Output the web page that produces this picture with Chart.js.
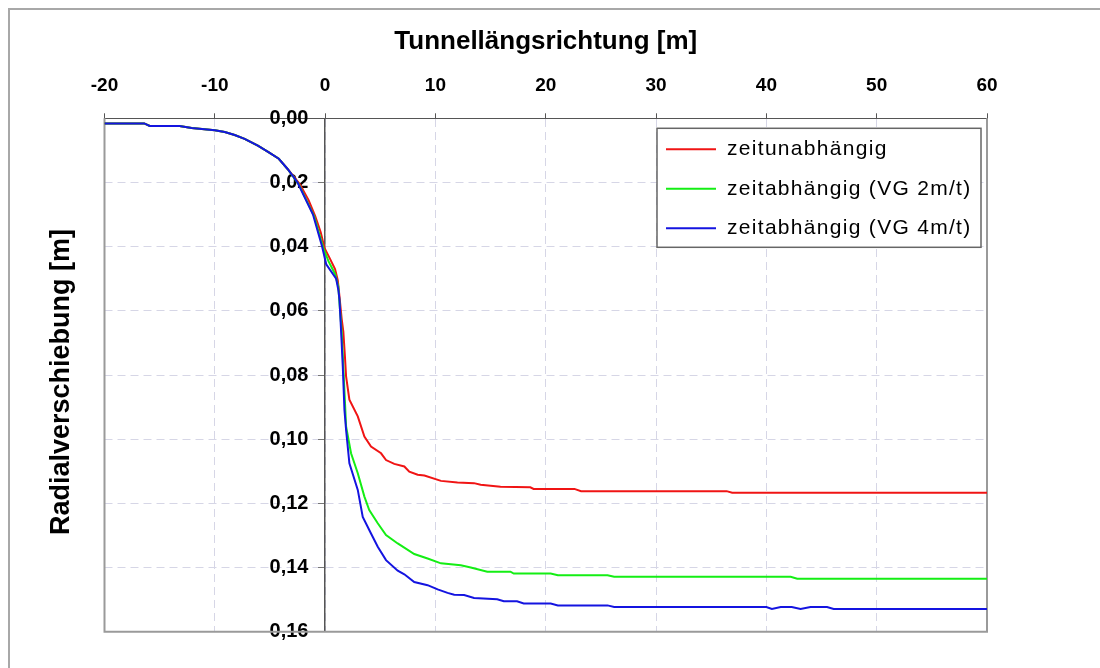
<!DOCTYPE html>
<html>
<head>
<meta charset="utf-8">
<script src="https://cdn.jsdelivr.net/npm/chart.js@4.4.1/dist/chart.umd.min.js"></script>
<style>
  body { margin: 0; background: #fff; }
</style>
</head>
<body>
<canvas id="radialChart" width="1100" height="668"></canvas>
<script>
// shared start of all three curves (before the face)
const startX = [-20, -16.4, -15.9, -13.2, -12.1, -10, -9.1, -8.2, -7.3, -6.1, -5.1, -4.2, -3.4];
const startY = [0.0016, 0.0016, 0.0024, 0.0024, 0.0030, 0.0037, 0.0043, 0.0052, 0.0064, 0.0085, 0.0106, 0.0126, 0.0158];

const redX = [-2.3, -1.5, -0.9, -0.4, -0.05, 0.4, 0.9, 1.15, 1.3, 1.5, 1.65, 1.8, 1.9, 2.2, 2.96, 3.56, 4.16, 5.07, 5.52, 6.27, 7.18, 7.63, 8.39, 9.0, 10.5, 12.0, 13.5, 14.1, 15.9, 18.6, 18.9, 22.6, 23.2, 36.4, 36.9, 60];
const redY = [0.0205, 0.0255, 0.0305, 0.0355, 0.0405, 0.0435, 0.0470, 0.0505, 0.0555, 0.0625, 0.0665, 0.0745, 0.0804, 0.0877, 0.0929, 0.0992, 0.1023, 0.1044, 0.1065, 0.1077, 0.1085, 0.1101, 0.1111, 0.1113, 0.1130, 0.1135, 0.1137, 0.1142, 0.1148, 0.1150, 0.1155, 0.1155, 0.1162, 0.1162, 0.1167, 0.1167];

const greenX = [-2.4, -1.0, -0.15, 0.3, 0.9, 1.2, 1.3, 1.5, 1.65, 1.8, 1.9, 2.35, 2.96, 3.56, 4.0, 4.77, 5.52, 6.58, 8.08, 9.29, 10.5, 12.3, 13.2, 14.7, 16.8, 17.1, 20.45, 21.1, 25.6, 26.2, 42.2, 42.8, 60];
const greenY = [0.0205, 0.0305, 0.0405, 0.0445, 0.0485, 0.0525, 0.0575, 0.0665, 0.0775, 0.0885, 0.0960, 0.1044, 0.1106, 0.1179, 0.1221, 0.1262, 0.1299, 0.1325, 0.1358, 0.1372, 0.1387, 0.1393, 0.1400, 0.1413, 0.1413, 0.1419, 0.1419, 0.1424, 0.1424, 0.1429, 0.1429, 0.1435, 0.1435];

const blueX = [-2.5, -1.1, -0.27, 0.1, 1.0, 1.2, 1.3, 1.45, 1.6, 1.75, 1.9, 2.2, 2.96, 3.41, 4.16, 4.77, 5.52, 6.58, 7.18, 8.08, 9.29, 10.2, 11.1, 11.7, 12.6, 13.5, 15.6, 16.2, 17.4, 18.0, 20.45, 21.1, 25.6, 26.2, 40.0, 40.5, 41.3, 42.3, 43.1, 44.0, 45.5, 46.1, 60];
const blueY = [0.0200, 0.0300, 0.0400, 0.0455, 0.0500, 0.0535, 0.0565, 0.0665, 0.0773, 0.0908, 0.0971, 0.1075, 0.1158, 0.1242, 0.1294, 0.1335, 0.1377, 0.1410, 0.1421, 0.1445, 0.1455, 0.1468, 0.1479, 0.1485, 0.1486, 0.1495, 0.1499, 0.1505, 0.1505, 0.1512, 0.1512, 0.1518, 0.1518, 0.1523, 0.1523, 0.1529, 0.1523, 0.1523, 0.1529, 0.1523, 0.1523, 0.1529, 0.1529];

const seriesLabels = ['zeitunabhängig', 'zeitabhängig (VG 2m/t)', 'zeitabhängig (VG 4m/t)'];
const xTitle = 'Tunnellängsrichtung [m]';
const yTitle = 'Radialverschiebung [m]';

const fontFamily = '"Liberation Sans", Arial, sans-serif';

function points(xs, ys) {
    const pts = [];
    for (let i = 0; i < xs.length; i++) {
        pts.push({ x: xs[i], y: ys[i] });
    }
    return pts;
}

// outer frame, plot border, legend box and rotated y title
const framePlugin = {
    id: 'framePlugin',
    beforeDraw(chart) {
        const ctx = chart.ctx;
        ctx.save();
        ctx.fillStyle = '#fff';
        ctx.fillRect(0, 0, chart.width, chart.height);
        ctx.strokeStyle = '#a8a8a8';
        ctx.lineWidth = 2;
        ctx.strokeRect(9, 9, chart.width + 20, chart.height + 20);
        ctx.restore();
    },
    beforeDatasetsDraw(chart) {
        const ctx = chart.ctx;
        const a = chart.chartArea;
        ctx.save();
        ctx.strokeStyle = '#9a9a9a';
        ctx.lineWidth = 2;
        ctx.beginPath();
        ctx.moveTo(a.left, a.top);
        ctx.lineTo(a.left, a.bottom);
        ctx.lineTo(a.right, a.bottom);
        ctx.lineTo(a.right, a.top);
        ctx.stroke();
        ctx.restore();
    },
    afterDraw(chart) {
        const ctx = chart.ctx;
        const a = chart.chartArea;

        // legend
        const w = 324, h = 119;
        const left = a.right - 6 - w;
        const top = a.top + 10;
        ctx.save();
        ctx.fillStyle = '#fff';
        ctx.fillRect(left, top, w, h);
        ctx.strokeStyle = '#666';
        ctx.lineWidth = 1.5;
        ctx.strokeRect(left, top, w, h);
        ctx.font = '21px ' + fontFamily;
        ctx.letterSpacing = '1.3px';
        ctx.textBaseline = 'middle';
        chart.data.datasets.forEach((ds, i) => {
            const y = top + 21 + i * 39.5;
            ctx.strokeStyle = ds.borderColor;
            ctx.lineWidth = 2;
            ctx.beginPath();
            ctx.moveTo(left + 9, y);
            ctx.lineTo(left + 59, y);
            ctx.stroke();
            ctx.fillStyle = '#000';
            ctx.fillText(ds.label, left + 70, y);
        });
        ctx.restore();

        // y axis title
        ctx.save();
        ctx.translate(68.5, (a.top + a.bottom) / 2 + 7);
        ctx.rotate(-Math.PI / 2);
        ctx.font = 'bold 27px ' + fontFamily;
        ctx.fillStyle = '#000';
        ctx.textAlign = 'center';
        ctx.textBaseline = 'alphabetic';
        ctx.fillText(yTitle, 0, 0);
        ctx.restore();
    }
};

const gridColor = '#d6d6e6';

const radialChart = new Chart(document.getElementById('radialChart'), {
    type: 'line',
    data: {
        datasets: [
            {
                label: seriesLabels[0],
                data: points(startX.concat(redX), startY.concat(redY)),
                borderColor: '#f01414',
                borderWidth: 2,
                pointRadius: 0,
                tension: 0,
                fill: false,
                order: 2
            },
            {
                label: seriesLabels[1],
                data: points(startX.concat(greenX), startY.concat(greenY)),
                borderColor: '#14ee14',
                borderWidth: 2,
                pointRadius: 0,
                tension: 0,
                fill: false,
                order: 1
            },
            {
                label: seriesLabels[2],
                data: points(startX.concat(blueX), startY.concat(blueY)),
                borderColor: '#1414e0',
                borderWidth: 2,
                pointRadius: 0,
                tension: 0,
                fill: false,
                order: 0
            }
        ]
    },
    options: {
        responsive: false,
        animation: false,
        layout: {
            padding: { left: 104.5, right: 113, top: 29, bottom: 36.3 }
        },
        plugins: {
            legend: { display: false },
            tooltip: { enabled: false }
        },
        scales: {
            x: {
                type: 'linear',
                position: 'top',
                min: -20,
                max: 60,
                ticks: {
                    stepSize: 10,
                    autoSkip: false,
                    maxRotation: 0,
                    padding: 16.5,
                    color: '#000',
                    font: { family: fontFamily, size: 19, weight: 'bold' }
                },
                grid: {
                    color: gridColor,
                    tickColor: '#555',
                    tickLength: 5
                },
                border: { color: '#555', width: 1, dash: [8, 5] },
                title: {
                    display: true,
                    text: xTitle,
                    color: '#000',
                    font: { family: fontFamily, size: 26, weight: 'bold', lineHeight: 1 },
                    padding: { top: 0, bottom: 2.5 }
                }
            },
            y: {
                type: 'linear',
                position: { x: 0 },
                reverse: true,
                min: 0,
                max: 0.16,
                ticks: {
                    stepSize: 0.02,
                    color: '#000',
                    font: { family: fontFamily, size: 20, weight: 'bold' },
                    // labels sit left of the axis at x = 0; trailing spaces keep them clear of the tick marks
                    callback: (v) => v.toFixed(2).replace('.', ',') + '   '
                },
                grid: {
                    color: gridColor,
                    tickColor: '#777',
                    tickLength: 6
                },
                border: { color: '#555', width: 1.5, dash: [8, 5] }
            }
        }
    },
    plugins: [framePlugin]
});
</script>
</body>
</html>
